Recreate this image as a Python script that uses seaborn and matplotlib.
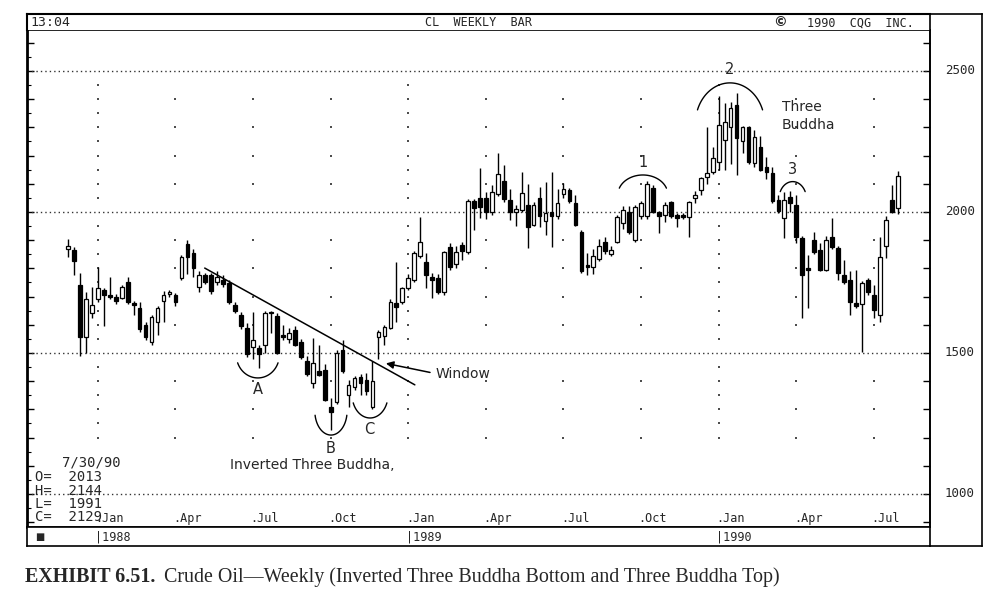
import numpy as np
import pandas as pd
import matplotlib
matplotlib.use("Agg")
import matplotlib.pyplot as plt
import matplotlib.transforms as mtransforms
import seaborn as sns

# weekly crude oil (CL) candles, week of 11/30/87 .. 7/30/90
opens = [1870, 1865, 1740, 1555, 1640, 1690, 1722, 1705, 1700, 1695,
         1750, 1675, 1660, 1600, 1540, 1610, 1685, 1710, 1706, 1765,
         1885, 1855, 1735, 1775, 1775, 1750, 1758, 1748, 1670, 1635,
         1590, 1522, 1518, 1530, 1642, 1630, 1565, 1548, 1580, 1540,
         1470, 1395, 1435, 1440, 1310, 1325, 1510, 1352, 1378, 1415,
         1404, 1310, 1555, 1560, 1590, 1678, 1682, 1732, 1760, 1842,
         1823, 1770, 1766, 1715, 1875, 1815, 1882, 1858, 2040, 2048,
         2050, 1998, 2062, 2110, 2043, 2000, 2008, 2025, 1955, 2048,
         1968, 1998, 1985, 2062, 2078, 2032, 1930, 1808, 1803, 1832,
         1892, 1850, 1895, 1962, 2000, 1902, 1985, 1985, 2085, 2000,
         1990, 2035, 1990, 1985, 1982, 2050, 2078, 2125, 2142, 2178,
         2256, 2302, 2378, 2250, 2300, 2175, 2230, 2160, 2138, 2042,
         1980, 2053, 2025, 1908, 1800, 1900, 1865, 1795, 1910, 1872,
         1776, 1760, 1677, 1672, 1758, 1706, 1636, 1878, 2043, 2013]
highs = [1905, 1875, 1785, 1716, 1735, 1805, 1730, 1770, 1710, 1740,
         1770, 1685, 1680, 1610, 1635, 1665, 1720, 1725, 1712, 1848,
         1900, 1870, 1790, 1785, 1785, 1790, 1775, 1760, 1680, 1645,
         1605, 1645, 1530, 1650, 1648, 1640, 1600, 1590, 1595, 1550,
         1490, 1553, 1530, 1460, 1340, 1510, 1546, 1405, 1420, 1425,
         1430, 1470, 1580, 1600, 1690, 1823, 1735, 1780, 1860, 1982,
         1855, 1785, 1780, 1862, 1890, 1880, 1895, 2045, 2045, 2155,
         2070, 2095, 2210, 2165, 2080, 2025, 2140, 2100, 2035, 2090,
         2105, 2140, 2080, 2103, 2085, 2060, 1935, 1855, 1870, 1905,
         1912, 1880, 1990, 2020, 2020, 2025, 2040, 2110, 2095, 2005,
         2035, 2040, 1995, 1995, 2040, 2075, 2125, 2300, 2230, 2410,
         2385, 2390, 2422, 2305, 2305, 2290, 2270, 2195, 2160, 2060,
         2070, 2075, 2060, 1915, 1847, 1930, 1890, 1915, 1980, 1880,
         1830, 1790, 1795, 1755, 1765, 1740, 1912, 1985, 2095, 2144]
lows = [1840, 1775, 1490, 1500, 1625, 1680, 1595, 1690, 1675, 1690,
        1675, 1635, 1575, 1545, 1530, 1565, 1610, 1700, 1665, 1760,
        1780, 1770, 1715, 1745, 1710, 1740, 1735, 1675, 1640, 1585,
        1485, 1480, 1445, 1500, 1570, 1495, 1545, 1535, 1525, 1480,
        1420, 1375, 1420, 1330, 1228, 1318, 1430, 1310, 1370, 1352,
        1350, 1300, 1480, 1530, 1585, 1610, 1675, 1725, 1750, 1835,
        1730, 1695, 1710, 1705, 1795, 1800, 1830, 1850, 1935, 1980,
        1975, 1990, 2055, 2035, 1970, 1950, 2000, 1872, 1950, 1945,
        1918, 1876, 1975, 2050, 2030, 1950, 1785, 1777, 1780, 1825,
        1850, 1845, 1890, 1940, 1920, 1895, 1975, 1975, 1995, 1925,
        1965, 1980, 1945, 1975, 1910, 2030, 2060, 2100, 2135, 2150,
        2150, 2170, 2130, 2210, 2170, 2160, 2145, 2115, 2030, 1995,
        1908, 2000, 1890, 1625, 1660, 1850, 1790, 1790, 1870, 1760,
        1745, 1635, 1660, 1505, 1705, 1625, 1610, 1835, 1995, 1991]
closes = [1878, 1825, 1557, 1690, 1670, 1730, 1705, 1700, 1685, 1734,
          1680, 1670, 1585, 1555, 1628, 1660, 1705, 1715, 1682, 1840,
          1840, 1800, 1775, 1750, 1720, 1770, 1745, 1680, 1650, 1595,
          1495, 1545, 1495, 1642, 1640, 1500, 1555, 1570, 1530, 1485,
          1425, 1465, 1423, 1335, 1292, 1500, 1435, 1387, 1410, 1395,
          1365, 1400, 1575, 1592, 1680, 1662, 1730, 1766, 1855, 1894,
          1778, 1760, 1715, 1858, 1805, 1858, 1860, 2040, 2015, 2018,
          2000, 2070, 2135, 2045, 2000, 2012, 2067, 1948, 2025, 1985,
          1995, 1985, 2030, 2080, 2038, 1955, 1790, 1805, 1845, 1880,
          1860, 1866, 1982, 2007, 1928, 2018, 2030, 2100, 2000, 1985,
          2025, 1985, 1980, 1983, 2035, 2060, 2120, 2138, 2190, 2308,
          2318, 2368, 2262, 2300, 2178, 2265, 2150, 2140, 2038, 2002,
          2043, 2032, 1912, 1778, 1795, 1858, 1795, 1900, 1877, 1785,
          1752, 1682, 1665, 1748, 1715, 1653, 1840, 1972, 2000, 2129]

first_week = "1987-11-30"
price_lines = [1000, 1500, 2000, 2500]
month_names = {1: "Jan", 4: "Apr", 7: "Jul", 10: "Oct"}
last_bar = ["7/30/90", "O=  2013", "H=  2144", "L=  1991", "C=  2129"]

sns.set_style("white")
plt.rcParams["font.family"] = ["DejaVu Sans"]
MONO = "DejaVu Sans Mono"

df = pd.DataFrame({"date": pd.date_range(first_week, periods=len(closes), freq="W-MON"),
                   "open": opens, "high": highs, "low": lows, "close": closes})
df["i"] = np.arange(len(df))
df["bot"] = df[["open", "close"]].min(axis=1)
df["h"] = (df.close - df.open).abs().clip(lower=6)
qtr = df[df.date.dt.month.isin(month_names.keys()) & (df.date.dt.day <= 7)]

W, H = 999, 601


def rect(x0, y0, x1, y1):
    return [x0 / W, 1 - y1 / H, (x1 - x0) / W, (y1 - y0) / H]


fig = plt.figure(figsize=(W / 100, H / 100), dpi=100)
ax = fig.add_axes(rect(27, 30, 930, 527))
ax.set_xlim(-6.87, 144.4)
ax.set_ylim(883, 2645)

# grid of dots at the quarter columns, denser at each new year
rows = []
for _, r in qtr.iterrows():
    step = 50 if r.date.month == 1 else 100
    for v in range(1200, 2451, step):
        if v % 500:
            rows.append((r.i, v))
dots = pd.DataFrame(rows, columns=["i", "v"])
sns.scatterplot(data=dots, x="i", y="v", ax=ax, marker="s", s=3, color="0.3",
                linewidth=0, legend=False, zorder=1)
for v in price_lines:
    ax.axhline(v, ls=(0, (1, 2.2)), lw=1, color="0.2", zorder=1)

# candles
ax.vlines(df.i, df.low, df.high, color="black", lw=1, zorder=2)
up = df[df.close >= df.open]
dn = df[df.close < df.open]
ax.bar(up.i, up.h, bottom=up.bot, width=0.62, color="white", edgecolor="black", lw=0.9, zorder=3)
ax.bar(dn.i, dn.h, bottom=dn.bot, width=0.62, color="black", edgecolor="black", lw=0.9, zorder=3)

ax.set_xticks([])
ax.set_yticks(range(900, 2700, 100))
ax.set_yticks(range(950, 2650, 100), minor=True)
ax.set_yticklabels([])
ax.tick_params(axis="y", which="major", direction="in", length=5, width=1, left=True, right=True, color="black")
ax.tick_params(axis="y", which="minor", direction="in", length=3, width=0.8, left=True, right=False, color="black")
for s in ax.spines.values():
    s.set_color("black")
    s.set_linewidth(1.2)
ax.spines["left"].set_linewidth(2)
ax.set_xlabel("")
ax.set_ylabel("")

bt = mtransforms.blended_transform_factory(ax.transData, ax.transAxes)
for _, r in qtr.iterrows():
    ax.text(r.i - 0.4, 0.004, "." + month_names[r.date.month], transform=bt,
            fontsize=8.5, family=MONO, ha="left", va="bottom")

rt = mtransforms.blended_transform_factory(ax.transAxes, ax.transData)
for v in price_lines:
    ax.text(1.033, v, str(v), transform=rt, fontsize=9, family=MONO, ha="center", va="center")

# annotations
ax.plot([22.9, 58.1], [1801, 1387], color="black", lw=1.1, zorder=4)
ax.annotate("", xy=(52.8, 1465), xytext=(61.1, 1429),
            arrowprops=dict(arrowstyle="-|>", color="black", lw=1.1, mutation_scale=11))
ax.text(61.5, 1426, "Window", fontsize=10, ha="left", va="center")

arcs = [(31.8, 1493, 7.2, 163, 200, 340), (44.05, 1294, 5.4, 170, 190, 350),
        (50.6, 1351, 6.0, 163, 200, 340), (96.3, 2060, 8.4, 142, 20, 160),
        (110.9, 2312, 11.6, 291, 20, 160), (121.4, 2046, 4.6, 123, 25, 155)]
for cx, cy, w, h, t1, t2 in arcs:
    t = np.radians(np.linspace(t1, t2, 60))
    ax.plot(cx + w / 2 * np.cos(t), cy + h / 2 * np.sin(t), color="black", lw=1, zorder=4)

for s, x, y in [("A", 31.8, 1369), ("B", 43.9, 1163), ("C", 50.4, 1227),
                ("1", 96.3, 2177), ("2", 110.9, 2504), ("3", 121.4, 2149)]:
    ax.text(x, y, s, fontsize=10.5, ha="center", va="center")
ax.text(119.6, 2340, "Three\nBuddha", fontsize=10, ha="left", va="center", linespacing=1.35)
ax.text(27.1, 1103, "Inverted Three Buddha,", fontsize=10, ha="left", va="center")

# last bar readout
for k, (s, y) in enumerate(zip(last_bar, [463, 477, 491, 504, 517])):
    fig.text((62 if k == 0 else 35) / W, 1 - y / H, s, fontsize=10, family=MONO,
             ha="left", va="center")

# header strip
hd = fig.add_axes(rect(27, 14, 930, 30))
hd.set_xlim(0, 1)
hd.set_ylim(0, 1)
hd.set_xticks([])
hd.set_yticks([])
for k, s in hd.spines.items():
    s.set_visible(k in ("top", "left"))
    s.set_color("black")
    s.set_linewidth(1.5)
hd.text(0.004, 0.45, "13:04", fontsize=9.5, family=MONO, va="center", ha="left")
hd.text(0.5, 0.45, "CL  WEEKLY  BAR", fontsize=8.5, family=MONO, va="center", ha="center")
hd.text(0.834, 0.5, "\u00a9", fontsize=10, va="center", ha="center", weight="bold")
hd.text(0.864, 0.45, "1990  CQG  INC.", fontsize=8.5, family=MONO, va="center", ha="left")

# year strip
yr = fig.add_axes(rect(27, 527, 930, 546))
yr.set_xlim(ax.get_xlim())
yr.set_ylim(0, 1)
yr.set_xticks([])
yr.set_yticks([])
for k, s in yr.spines.items():
    s.set_visible(k != "right")
    s.set_color("black")
    s.set_linewidth(1.2)
yr.text(-5.5, 0.45, "\u25a0", fontsize=7, va="center", ha="left")
jans = qtr[qtr.date.dt.month == 1]
for _, r in jans.iterrows():
    yr.text(r.i - 0.4, 0.45, "|" + str(r.date.year), fontsize=8.5, family=MONO,
            va="center", ha="left")

# right label box
rb = fig.add_axes(rect(930, 14, 982, 546))
rb.set_xticks([])
rb.set_yticks([])
rb.patch.set_alpha(0)
for s in rb.spines.values():
    s.set_color("black")
    s.set_linewidth(1.2)

cap = fig.text(25 / W, 1 - 582 / H, "EXHIBIT 6.51.", fontsize=14.4, family="Liberation Serif",
               weight="bold", va="baseline", ha="left")
plt.annotate("Crude Oil\u2014Weekly (Inverted Three Buddha Bottom and Three Buddha Top)",
             xy=(1, 0), xycoords=cap, xytext=(6, 0), textcoords="offset points",
             fontsize=14.4, family="Liberation Serif", va="bottom", ha="left")

fig.savefig("out.png", dpi=100, facecolor="white")
